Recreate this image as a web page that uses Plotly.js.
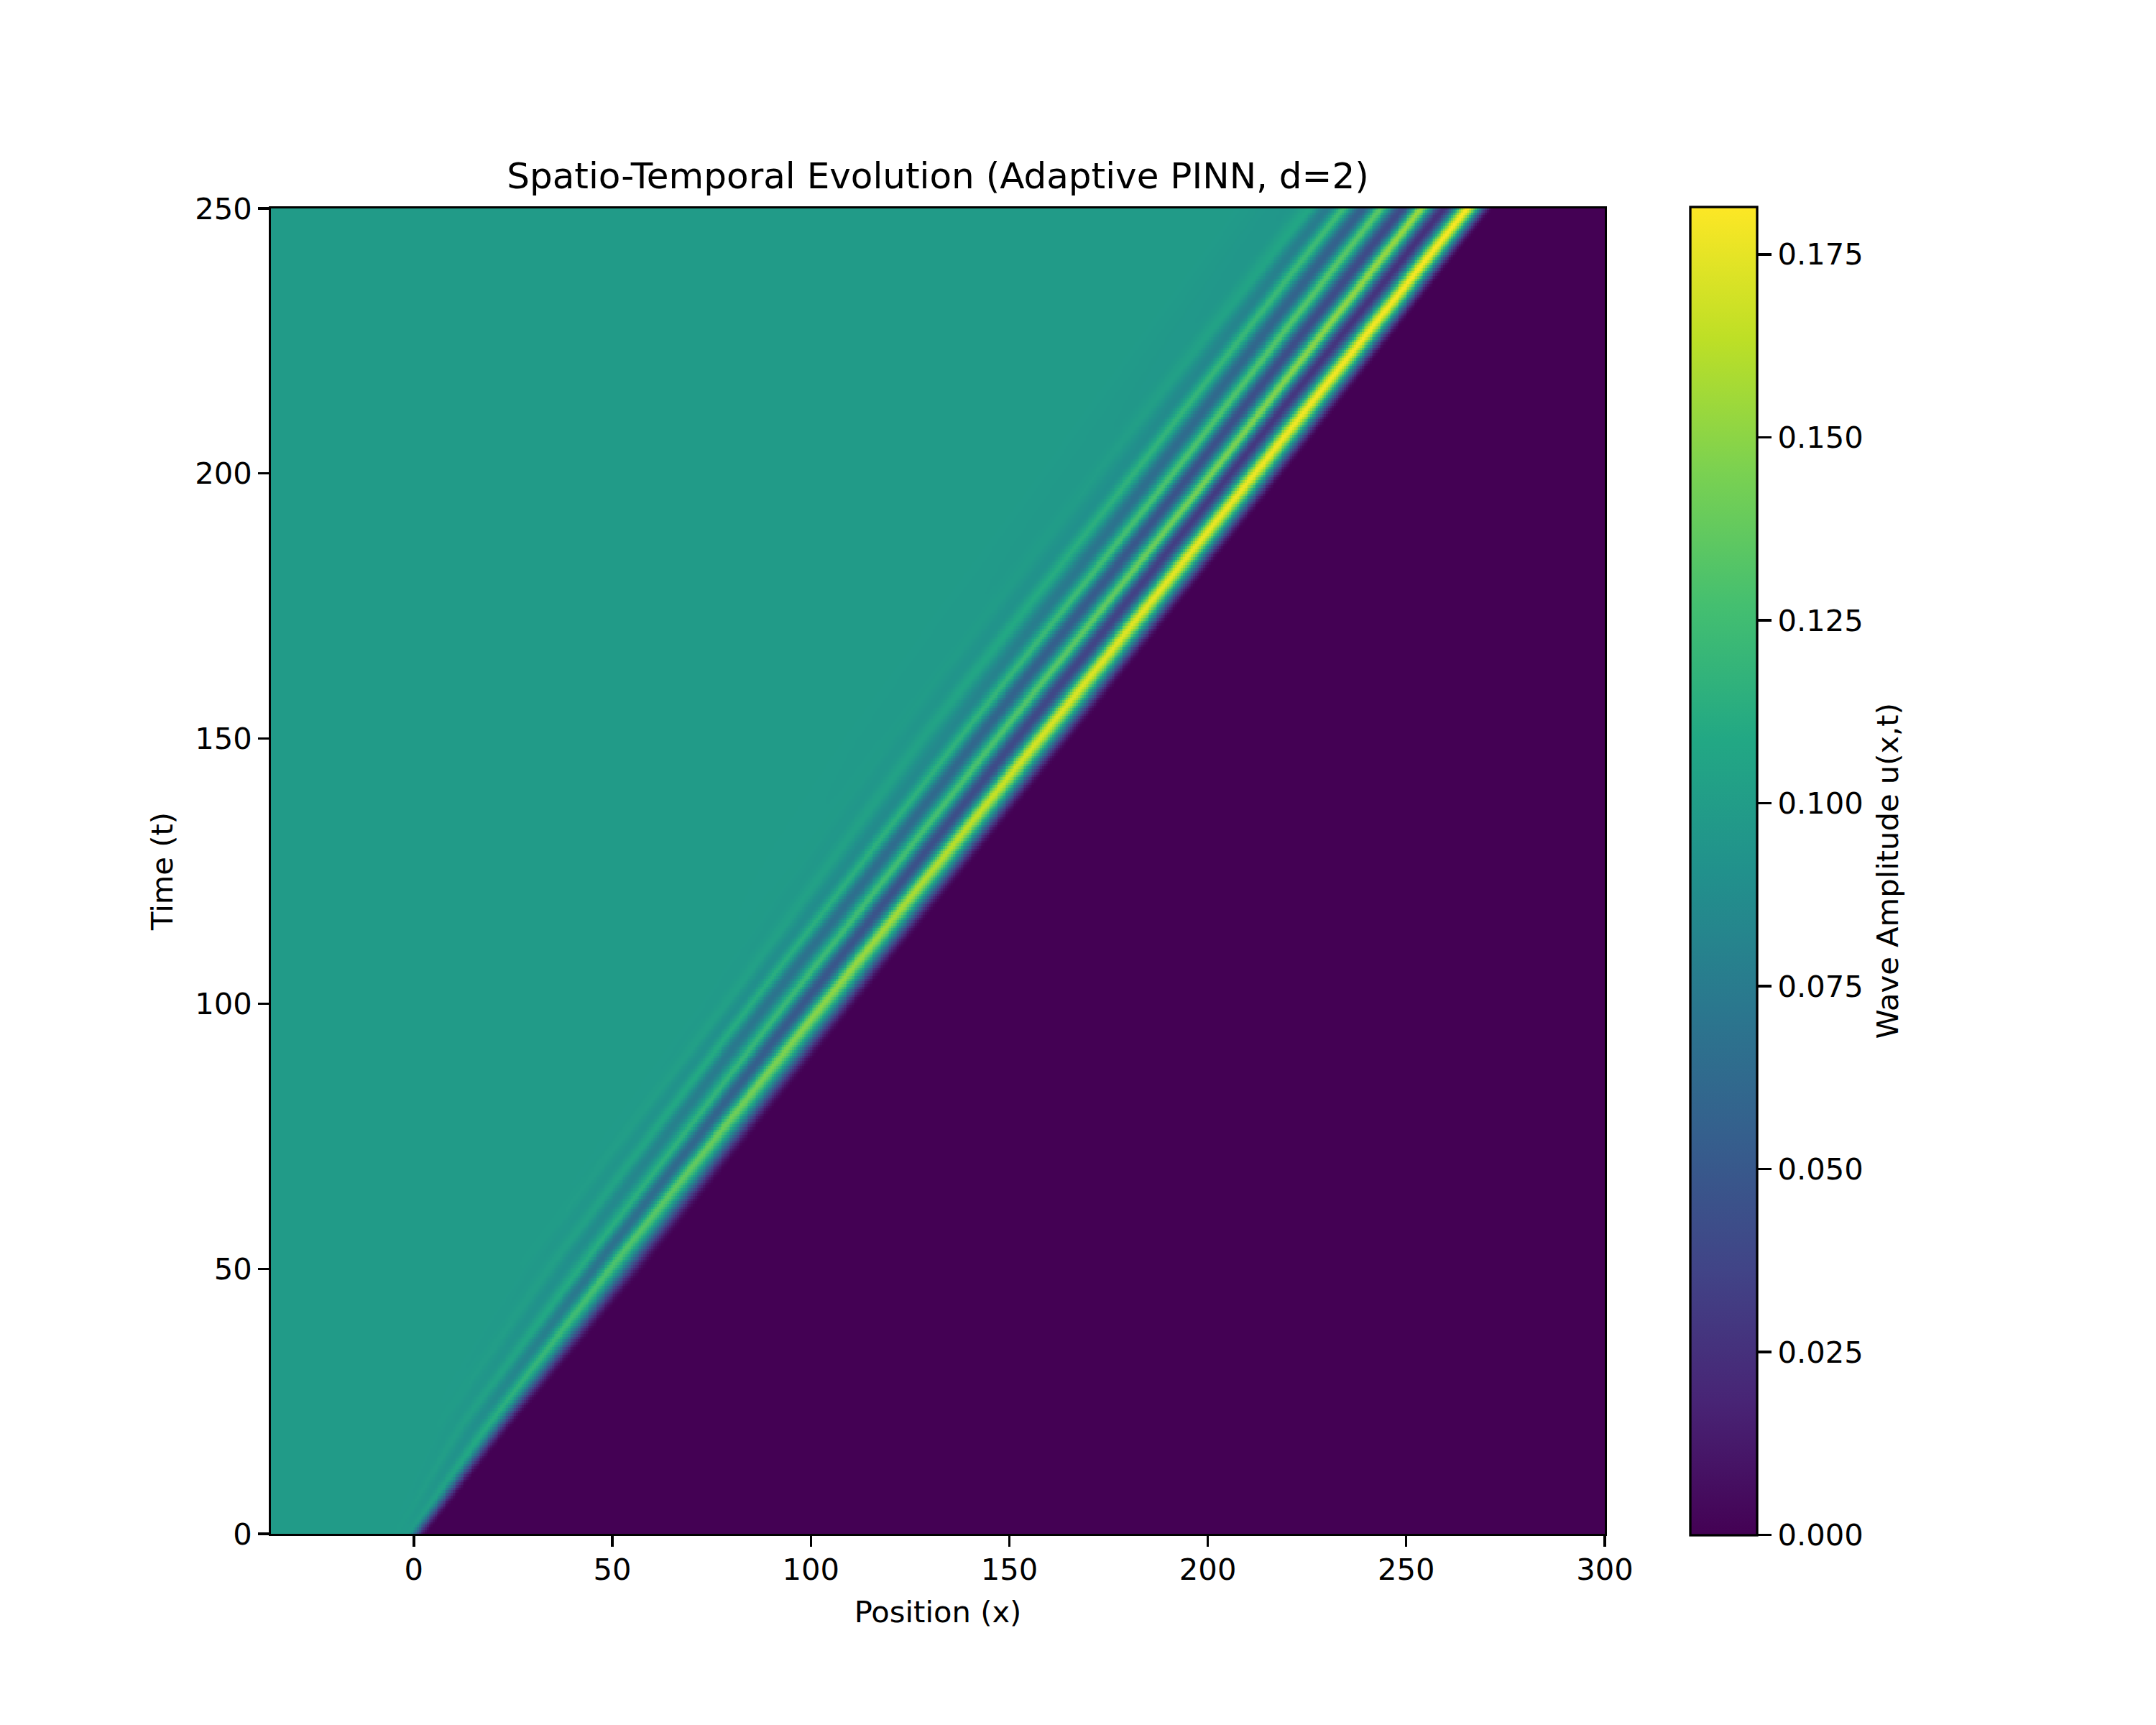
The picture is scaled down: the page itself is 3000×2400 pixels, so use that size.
<!DOCTYPE html>
<html><head><meta charset="utf-8">
<script src="https://cdn.plot.ly/plotly-3.0.1.min.js"></script>
<style>html,body{margin:0;padding:0;background:#fff}</style></head>
<body><div id="chart" style="width:3000px;height:2400px"></div>
<script>
const timeKeys = [0, 20, 50, 100, 150, 200, 250];
const plateau = 0.099;
const frontZeroX = [3.5, 24.6, 58.3, 111.8, 166, 219.6, 272];
const peak1X   = [-1.5, 18.2, 49.3, 103.1, 157.6, 211.8, 265.3];
const trough1X = [-3, 15, 45.3, 98, 151.9, 205.7, 259.3];
const peak2X   = [-4.5, 11.5, 41.7, 93.6, 146.8, 201, 253.6];
const trough2X = [-6, 9, 37.7, 89, 142, 195.8, 248.9];
const peak3X   = [-7.5, 6, 34, 85, 137.4, 191.3, 243.4];
const trough3X = [-9, 3, 30.5, 82, 133.5, 186.5, 238.9];
const peak4X   = [-10.5, 0, 27, 78.7, 128, 181.4, 234];
const trough4X = [-12, -3, 24, 75, 124, 177.5, 229.9];
const peak5X   = [-13.5, -6, 21, 71, 120, 172, 225.6];
const trough5X = [-15, -8, 18, 68, 116, 168, 220];
const plateauX = [-17, -14, 10, 58, 105, 155, 205];
const peak1Amp   = [0.099, 0.112, 0.13, 0.15, 0.171, 0.178, 0.181];
const trough1Amp = [0.099, 0.09, 0.07, 0.05, 0.04, 0.03, 0.025];
const peak2Amp   = [0.099, 0.102, 0.112, 0.122, 0.13, 0.145, 0.155];
const trough2Amp = [0.099, 0.097, 0.09, 0.07, 0.06, 0.045, 0.04];
const peak3Amp   = [0.099, 0.099, 0.102, 0.113, 0.117, 0.13, 0.135];
const trough3Amp = [0.099, 0.099, 0.097, 0.09, 0.085, 0.065, 0.055];
const peak4Amp   = [0.099, 0.099, 0.099, 0.103, 0.104, 0.117, 0.125];
const trough4Amp = [0.099, 0.099, 0.099, 0.098, 0.095, 0.09, 0.075];
const peak5Amp   = [0.099, 0.099, 0.099, 0.099, 0.099, 0.1, 0.108];
const trough5Amp = [0.099, 0.099, 0.099, 0.099, 0.098, 0.097, 0.095];
const xTicks = [0, 50, 100, 150, 200, 250, 300];
const yTicks = [0, 50, 100, 150, 200, 250];
const cbTicks = [0, 0.025, 0.05, 0.075, 0.1, 0.125, 0.15, 0.175];
const viridis = [[0,'#440154'],[0.1,'#482475'],[0.2,'#414487'],[0.3,'#355f8d'],[0.4,'#2a788e'],[0.5,'#21918c'],[0.6,'#22a884'],[0.7,'#44bf70'],[0.8,'#7ad151'],[0.9,'#bddf26'],[1,'#fde725']];

const knotX = [frontZeroX, peak1X, trough1X, peak2X, trough2X, peak3X, trough3X, peak4X, trough4X, peak5X, trough5X, plateauX];
const zeros = timeKeys.map(() => 0), flat = timeKeys.map(() => plateau);
const knotA = [zeros, peak1Amp, trough1Amp, peak2Amp, trough2Amp, peak3Amp, trough3Amp, peak4Amp, trough4Amp, peak5Amp, trough5Amp, flat];

function atTime(arr, t) {
  let i = 0;
  while (i < timeKeys.length - 2 && t > timeKeys[i + 1]) i++;
  const f = (t - timeKeys[i]) / (timeKeys[i + 1] - timeKeys[i]);
  return arr[i] + (arr[i + 1] - arr[i]) * f;
}
const xs = [], ts = [];
for (let i = 0; i <= 672; i++) xs.push(-36 + i * 0.5);
for (let j = 0; j <= 500; j++) ts.push(j * 0.5);
const z = ts.map(t => {
  const px = knotX.map(a => atTime(a, t));
  const pa = knotA.map(a => atTime(a, t));
  return xs.map(x => {
    if (x >= px[0]) return 0;
    if (x <= px[px.length - 1]) return plateau;
    let k = 0;
    while (x < px[k + 1]) k++;
    const f = (px[k] - x) / (px[k] - px[k + 1]);
    // ridges (odd knots) are narrower than the troughs between them
    const fromPeak = k % 2 === 1 ? Math.pow(f, 0.85) : Math.pow(1 - f, 0.85);
    const ease = (1 - Math.cos(Math.PI * fromPeak)) / 2;
    const peakAmp = k % 2 === 1 ? pa[k] : pa[k + 1];
    const otherAmp = k % 2 === 1 ? pa[k + 1] : pa[k];
    return peakAmp + (otherAmp - peakAmp) * ease;
  });
});

const fs = 41.67, ink = '#000', lw = 3.33;
const axis = {showgrid:false, zeroline:false, showline:true, mirror:true, linecolor:ink, linewidth:lw,
  ticks:'outside', ticklen:14.6, tickwidth:lw, tickcolor:ink, tickfont:{size:fs,color:ink}};
Plotly.newPlot('chart', [{
  type:'heatmap', x:xs, y:ts, z:z, zmin:0, zmax:0.1815, colorscale:viridis, zsmooth:false, hoverinfo:'skip',
  colorbar:{x:1.064, xanchor:'left', xpad:0, ypad:0, y:-0.00092, yanchor:'bottom', lenmode:'pixels', len:1848, thicknessmode:'pixels', thickness:93,
    outlinecolor:ink, outlinewidth:lw, tickmode:'array', tickvals:cbTicks, tickformat:'.3f',
    ticks:'outside', ticklen:19, tickwidth:lw, tickcolor:ink,
    tickfont:{size:fs,color:ink}}
}], {
  width:3000, height:2400, paper_bgcolor:'#fff', plot_bgcolor:'#fff',
  font:{family:'DejaVu Sans', color:ink, size:fs},
  margin:{l:376.7, r:766.7, t:289.7, b:265.7, pad:0},
  title:{text:'Spatio-Temporal Evolution (Adaptive PINN, d=2)', font:{size:50,color:ink}, x:0.5, xref:'paper', xanchor:'center', y:1, yref:'paper', yanchor:'bottom', pad:{b:28}},
  xaxis:Object.assign({}, axis, {range:[-36,300], tickmode:'array', tickvals:xTicks, ticklabelstandoff:-4, title:{text:'Position (x)', standoff:22, font:{size:fs,color:ink}}}),
  yaxis:Object.assign({}, axis, {range:[0,250], tickmode:'array', tickvals:yTicks, title:{text:'Time (t)', standoff:18, font:{size:fs,color:ink}}}),
  annotations:[{text:'Wave Amplitude u(x,t)', xref:'paper', yref:'paper', x:1.212, y:0.5, xanchor:'center', yanchor:'middle', textangle:-90, showarrow:false, font:{size:fs,color:ink}}]
}, {displayModeBar:false, staticPlot:true});
</script></body></html>
